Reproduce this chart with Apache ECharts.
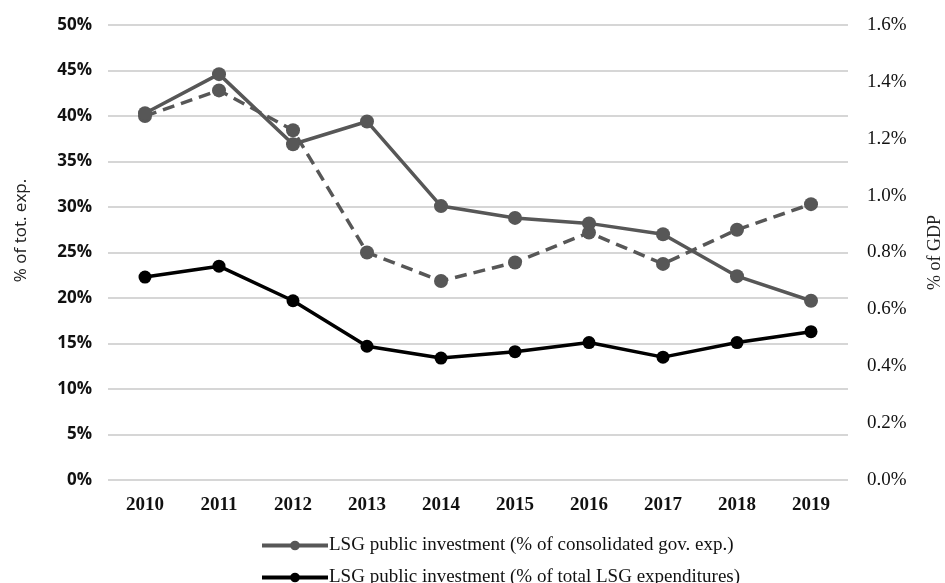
<!DOCTYPE html>
<html>
<head>
<meta charset="utf-8">
<script src="https://cdn.jsdelivr.net/npm/echarts@6/dist/echarts.min.js"></script>
<style>
  html, body { margin: 0; padding: 0; background: #fff; }
  #chart { width: 945px; height: 583px; }
</style>
</head>
<body>
<div id="chart"></div>
<script>
// Years on the category axis
const years = ['2010', '2011', '2012', '2013', '2014', '2015', '2016', '2017', '2018', '2019'];

// LSG public investment as % of consolidated government expenditure (left axis)
const pctConsolidated = [40.3, 44.6, 36.9, 39.4, 30.1, 28.8, 28.2, 27.0, 22.4, 19.7];

// LSG public investment as % of total LSG expenditures (left axis)
const pctTotalLSG = [22.3, 23.5, 19.7, 14.7, 13.4, 14.1, 15.1, 13.5, 15.1, 16.3];

// LSG public investment as % of GDP (right axis)
const pctGDP = [1.28, 1.37, 1.23, 0.80, 0.70, 0.765, 0.87, 0.76, 0.88, 0.97];

const seriesNames = [
  'LSG public investment (% of consolidated gov. exp.)',
  'LSG public investment (% of total LSG expenditures)',
  'LSG public investment (% of GDP)'
];

const gray = '#575757';
const serif = '"Liberation Serif", "Times New Roman", serif';
const sans = '"Open Sans", "Noto Sans", sans-serif';

const chart = echarts.init(document.getElementById('chart'), null, { renderer: 'canvas' });

chart.setOption({
  animation: false,
  backgroundColor: '#ffffff',
  grid: { left: 108, right: 97, top: 25, bottom: 103, containLabel: false, outerBoundsMode: 'none' },
  legend: {
    type: 'plain',
    orient: 'vertical',
    left: 255,
    top: 531,
    height: 120,
    itemWidth: 66,
    itemHeight: 12,
    itemGap: 13,
    data: [seriesNames[0], seriesNames[1]],
    lineStyle: { width: 4 },
    textStyle: { fontFamily: serif, fontSize: 19, color: '#111', padding: [0, 0, 0, -4] }
  },
  xAxis: {
    type: 'category',
    data: years,
    boundaryGap: true,
    axisLine: { show: false },
    axisTick: { show: false },
    axisLabel: { fontFamily: serif, fontSize: 19, fontWeight: 'bold', color: '#111', margin: 16 }
  },
  yAxis: [
    {
      type: 'value',
      min: 0, max: 50, interval: 5,
      name: '% of tot. exp.',
      nameLocation: 'middle',
      nameGap: 78,
      nameRotate: 90,
      nameTextStyle: { fontFamily: sans, fontSize: 17, color: '#222', padding: [0, 0, 0, 44] },
      axisLine: { show: false },
      axisTick: { show: false },
      axisLabel: {
        fontFamily: sans, fontSize: 17, fontWeight: 'bold', color: '#111', margin: 16,
        formatter: v => v + '%'
      },
      splitLine: { lineStyle: { color: '#c8c8c8', width: 1.5 } }
    },
    {
      type: 'value',
      min: 0, max: 1.6, interval: 0.2,
      name: '% of GDP',
      nameLocation: 'middle',
      nameGap: 78,
      nameRotate: 90,
      nameTextStyle: { fontFamily: serif, fontSize: 18, color: '#222' },
      axisLine: { show: false },
      axisTick: { show: false },
      axisLabel: {
        fontFamily: serif, fontSize: 19, color: '#111', margin: 19,
        formatter: v => v.toFixed(1) + '%'
      },
      splitLine: { show: false }
    }
  ],
  series: [
    {
      name: seriesNames[0],
      type: 'line',
      yAxisIndex: 0,
      data: pctConsolidated,
      symbol: 'circle',
      symbolSize: 14,
      itemStyle: { color: gray },
      lineStyle: { color: gray, width: 3.5 },
      z: 3
    },
    {
      name: seriesNames[1],
      type: 'line',
      yAxisIndex: 0,
      data: pctTotalLSG,
      symbol: 'circle',
      symbolSize: 13,
      itemStyle: { color: '#000' },
      lineStyle: { color: '#000', width: 3.5 },
      z: 4
    },
    {
      name: seriesNames[2],
      type: 'line',
      yAxisIndex: 1,
      data: pctGDP,
      symbol: 'circle',
      symbolSize: 14,
      itemStyle: { color: gray },
      lineStyle: { color: gray, width: 3.5, type: [12, 7] },
      z: 2
    }
  ]
});
</script>
</body>
</html>
